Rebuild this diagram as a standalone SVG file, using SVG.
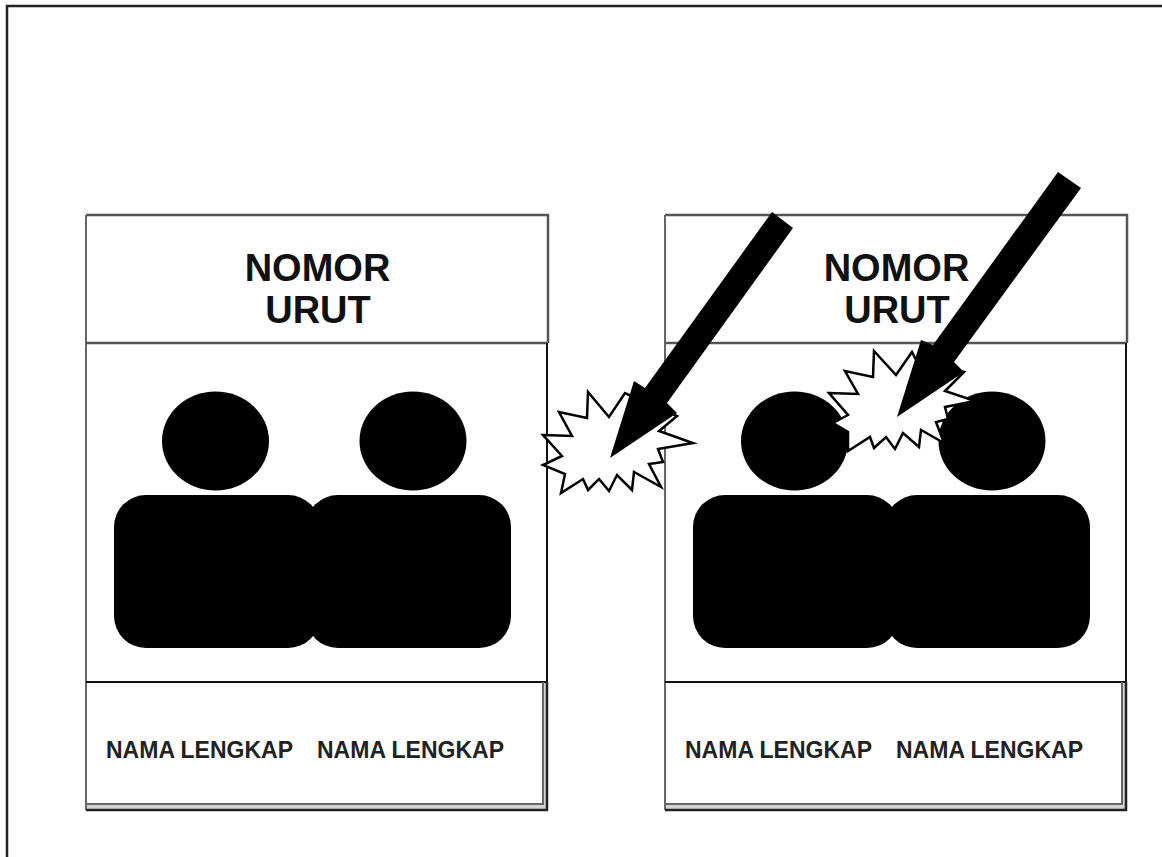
<svg xmlns="http://www.w3.org/2000/svg" width="1162" height="857" viewBox="0 0 1162 857">
<style>
.page{fill:none;stroke:#222;stroke-width:2.5}
.sep{fill:none;stroke:#555;stroke-width:2.5}
.line{fill:none;stroke:#111;stroke-width:2}
.edge{fill:none;stroke:#666;stroke-width:2}
.outer{fill:none;stroke:#222;stroke-width:2.5}
.band{fill:#d4d4d4}
.fig{fill:#000}
.star{fill:#fff;stroke:#000;stroke-width:2.5;stroke-linejoin:miter}
.t1{font:bold 38px "Liberation Sans",Arial,sans-serif;fill:#111;text-anchor:middle}
.t2{font:bold 23px "Liberation Sans",Arial,sans-serif;fill:#222}
</style>
<defs>
<g id="ballot">
<path class="band" d="M543 682H547V810H86V804H543Z"/>
<path class="sep" d="M86 215H548V343"/>
<path class="edge" d="M86 215V810"/>
<path class="sep" d="M86 343H548"/>
<path class="line" d="M547 343V682"/>
<path class="line" d="M86 682H547"/>
<path class="edge" d="M543 682V804H86"/>
<path class="outer" d="M547 682V810H86"/>
<ellipse class="fig" cx="215.500" cy="441" rx="53.500" ry="49.500"/>
<ellipse class="fig" cx="413" cy="441" rx="53.500" ry="49.500"/>
<rect class="fig" x="114" y="495" width="206" height="153" rx="32"/>
<rect class="fig" x="306" y="495" width="205" height="153" rx="32"/>
<text class="t1" x="317.500" y="281">NOMOR</text>
<text class="t1" x="318" y="323">URUT</text>
<text class="t2" x="106" y="758">NAMA LENGKAP</text>
<text class="t2" x="317" y="758">NAMA LENGKAP</text>
</g>
</defs>
<rect width="1162" height="857" fill="#fff"/>
<path id="page-frame" class="page" d="M7 857V6H1162"/>
<g id="ballot-left"><use href="#ballot"/></g>
<g id="ballot-right"><use href="#ballot" x="579"/></g>
<g id="mark-left">
<polygon class="star" points="543,435 572,436 559,412 587,418 588,392 609,417 625,393 640,400 677,416 659,431 693,443 658,449 663,462 649,464 661,487 634,472 632,490 617,475 609,491 599,479 588,490 583,479 561,493 565,474 543,465 562,456"/>
<polygon class="fig" points="772,212 793,228 667,403 677,413 610,458 634,381 645,388"/>
</g>
<g id="mark-right">
<polygon class="star" points="829,393 858,394 845,371 873,377 874,351 896,375 912,352 917,362 964,372 945,391 975,401 945,407 948,419 936,422 944,443 921,430 919,447 903,433 895,449 886,437 874,448 870,437 848,451 848,432 833,423 848,415"/>
<polygon class="fig" points="1058,172 1081,188 954,362 964,372 897,417 921,340 933,345"/>
</g>
</svg>
